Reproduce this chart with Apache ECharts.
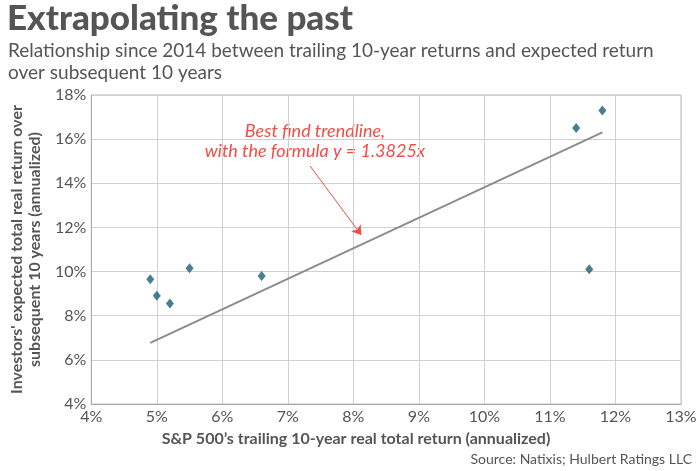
<!DOCTYPE html>
<html><head><meta charset="utf-8">
<script src="https://cdn.jsdelivr.net/npm/echarts@6/dist/echarts.min.js"></script>
<style>html,body{margin:0;padding:0;background:#fff}#c{width:700px;height:471px}</style>
</head><body><div id="c"></div>
<script>
const xValues = [4.9, 5.0, 5.2, 5.5, 6.6, 11.4, 11.8, 11.6];
const yValues = [9.65, 8.9, 8.55, 10.15, 9.8, 16.5, 17.3, 10.1];
const trendX = [4.9, 11.8];
const trendY = [6.77, 16.31];
const xTicks = [4, 5, 6, 7, 8, 9, 10, 11, 12, 13];
const yTicks = [4, 6, 8, 10, 12, 14, 16, 18];
const arrowFrom = [7.34, 14.78];
const arrowTo = [8.12, 11.66];

const chart = echarts.init(document.getElementById('c'));
const font = 'Lato, "Open Sans", sans-serif';
chart.setOption({
  animation: false,
  textStyle: {fontFamily: font},
  grid: {left: 85, right: 19, top: 95, bottom: 67, show: true, borderColor: '#bbb', borderWidth: 1},
  xAxis: {
    type: 'value', min: xTicks[0], max: xTicks[xTicks.length-1], interval: 1,
    axisLine: {show: true, lineStyle: {color: '#aaa'}},
    axisTick: {show: false},
    splitLine: {lineStyle: {color: '#d0d0d0'}},
    axisLabel: {color: '#555', fontSize: 16, fontFamily: font, margin: 5, formatter: v => v + '%'}
  },
  yAxis: {
    type: 'value', min: yTicks[0], max: yTicks[yTicks.length-1], interval: 2,
    axisLine: {show: true, lineStyle: {color: '#aaa'}},
    axisTick: {show: false},
    splitLine: {lineStyle: {color: '#d0d0d0'}},
    axisLabel: {color: '#555', fontSize: 16, fontFamily: font, margin: 5, formatter: v => v + '%'},
    name: "Investors' expected total real return over\nsubsequent 10 years (annualized)",
    nameLocation: 'middle', nameGap: 43,
    nameTextStyle: {color: '#555', fontSize: 16, fontWeight: 'bold', fontFamily: font, lineHeight: 18}
  },
  graphic: [
    {type: 'text', left: 7, top: 1, style: {text: 'Extrapolating the past', fill: '#555', font: '900 35px ' + font}},
    {type: 'text', left: 8, top: 40, style: {text: 'Relationship since 2014 between trailing 10-year returns and expected return\nover subsequent 10 years', fill: '#555', font: '19px ' + font, lineHeight: 22}},
    {type: 'text', x: 356, y: 439, style: {text: "S&P 500\u2019s trailing 10-year real total return (annualized)", fill: '#555', font: 'bold 16px ' + font, textAlign: 'center', textVerticalAlign: 'middle'}},
    {type: 'text', right: 8, top: 452, style: {text: 'Source: Natixis; Hulbert Ratings LLC', fill: '#555', font: '14px ' + font}},
    {type: 'text', x: 315, y: 141, style: {text: 'Best find trendline,\nwith the formula y = 1.3825x', fill: '#f04e45', font: 'italic 18px ' + font, lineHeight: 20, textAlign: 'center', textVerticalAlign: 'middle'}}
  ],
  series: [
    {
      type: 'line', data: trendX.map((x, i) => [x, trendY[i]]), symbol: 'none',
      lineStyle: {color: '#8c8c8c', width: 2}, z: 2
    },
    {
      type: 'scatter', data: xValues.map((x, i) => [x, yValues[i]]), symbol: 'diamond', symbolSize: [8, 10],
      itemStyle: {color: '#1d5d76'}, z: 3,
      markLine: {
        silent: true, symbol: ['none', 'arrow'], symbolSize: 9,
        lineStyle: {color: '#f04e45', width: 1, type: 'solid'}, label: {show: false},
        data: [[{coord: arrowFrom}, {coord: arrowTo}]]
      }
    }
  ]
});
</script></body></html>
